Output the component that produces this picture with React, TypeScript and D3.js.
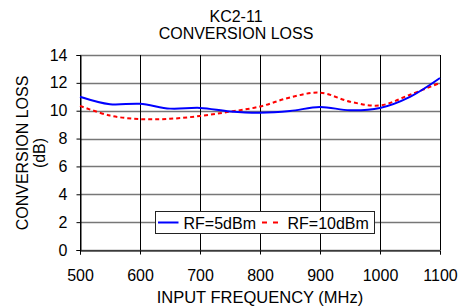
import React, { useEffect, useRef } from 'react';
import * as d3 from 'd3';

const freqs = [500, 550, 600, 650, 700, 750, 800, 850, 900, 950, 1000, 1050, 1100];
const rf5 = [11.0, 10.46, 10.5, 10.15, 10.2, 9.95, 9.86, 9.98, 10.27, 10.03, 10.2, 11.0, 12.35];
const rf10 = [10.35, 9.65, 9.4, 9.42, 9.62, 9.93, 10.3, 10.95, 11.3, 10.65, 10.38, 11.15, 12.0];
const xTicks = [500, 600, 700, 800, 900, 1000, 1100];
const yTicks = [0, 2, 4, 6, 8, 10, 12, 14];

const App = () => {
    const svgRef = useRef<SVGSVGElement>(null);

    useEffect(() => {
        const width = 460;
        const height = 308;
        const margin = { top: 55, right: 20, bottom: 58, left: 80 };
        const font = 'Liberation Sans, Arial, sans-serif';

        const svg = d3.select(svgRef.current)
            .attr('width', width)
            .attr('height', height)
            .style('display', 'block')
            .style('background', '#fff');

        svg.selectAll('*').remove();

        const x = d3.scaleLinear().domain([500, 1100]).range([margin.left, width - margin.right]);
        const y = d3.scaleLinear().domain([0, 14]).range([height - margin.bottom, margin.top]);

        // horizontal grid
        svg.append('g')
            .selectAll('line')
            .data(yTicks)
            .enter()
            .append('line')
            .attr('x1', x(500))
            .attr('x2', x(1100))
            .attr('y1', d => Math.round(y(d)) + 0.5)
            .attr('y2', d => Math.round(y(d)) + 0.5)
            .attr('stroke', '#777')
            .attr('stroke-width', 1.3);

        // vertical grid
        svg.append('g')
            .selectAll('line')
            .data(xTicks)
            .enter()
            .append('line')
            .attr('x1', d => Math.round(x(d)) + 0.5)
            .attr('x2', d => Math.round(x(d)) + 0.5)
            .attr('y1', y(14))
            .attr('y2', y(0))
            .attr('stroke', '#000')
            .attr('stroke-width', 1);

        // axes
        const xAxis = svg.append('g')
            .attr('transform', `translate(0, ${Math.round(y(0)) + 0.5})`)
            .call(d3.axisBottom(x).tickValues(xTicks).tickSize(4).tickPadding(15).tickFormat(d3.format('d')));
        const yAxis = svg.append('g')
            .attr('transform', `translate(${Math.round(x(500)) + 0.5}, 0)`)
            .call(d3.axisLeft(y).tickValues(yTicks).tickSize(4).tickPadding(9));

        [xAxis, yAxis].forEach(a => {
            a.select('.domain').attr('stroke', '#000');
            a.selectAll('.tick line').attr('stroke', '#000');
            a.selectAll('.tick text')
                .attr('fill', '#000')
                .style('font-family', font)
                .style('font-size', '16px');
        });

        const line = (vals: number[]) => d3.line<number>()
            .x((d, i) => x(freqs[i]))
            .y(d => y(d))
            .curve(d3.curveCatmullRom.alpha(0.5))(vals);

        svg.append('path')
            .attr('d', line(rf10))
            .attr('fill', 'none')
            .attr('stroke', '#ff0000')
            .attr('stroke-width', 2)
            .attr('stroke-dasharray', '4,3');

        svg.append('path')
            .attr('d', line(rf5))
            .attr('fill', 'none')
            .attr('stroke', '#0000ff')
            .attr('stroke-width', 2);

        // titles
        const title = svg.append('text')
            .attr('text-anchor', 'middle')
            .style('font-family', font)
            .style('font-size', '16px');
        title.append('tspan').attr('x', 236).attr('y', 22).text('KC2-11');
        title.append('tspan').attr('x', 236).attr('y', 39).text('CONVERSION LOSS');

        svg.append('text')
            .attr('x', 260)
            .attr('y', 302.5)
            .attr('text-anchor', 'middle')
            .style('font-family', font)
            .style('font-size', '16.5px')
            .text('INPUT FREQUENCY (MHz)');

        const yTitle = svg.append('text')
            .attr('transform', 'translate(0, 153) rotate(-90)')
            .attr('text-anchor', 'middle')
            .style('font-family', font)
            .style('font-size', '16px');
        yTitle.append('tspan').attr('x', 0).attr('y', 28).text('CONVERSION LOSS');
        yTitle.append('tspan').attr('x', 0).attr('y', 45).text('(dB)');

        // legend
        const lg = svg.append('g').attr('transform', 'translate(155.5, 211.5)');
        lg.append('rect')
            .attr('width', 219)
            .attr('height', 22)
            .attr('fill', '#fff')
            .attr('stroke', '#222');
        lg.append('line')
            .attr('x1', 2.5).attr('x2', 23).attr('y1', 11).attr('y2', 11)
            .attr('stroke', '#0000ff').attr('stroke-width', 2);
        lg.append('text')
            .attr('x', 28).attr('y', 17)
            .style('font-family', font).style('font-size', '16px')
            .text('RF=5dBm');
        lg.append('line')
            .attr('x1', 106.5).attr('x2', 123).attr('y1', 11).attr('y2', 11)
            .attr('stroke', '#ff0000').attr('stroke-width', 2).attr('stroke-dasharray', '5,6');
        lg.append('text')
            .attr('x', 132).attr('y', 17)
            .style('font-family', font).style('font-size', '16px')
            .text('RF=10dBm');
    }, []);

    return (
        <div style={{ position: 'absolute', left: 0, top: 0, width: 460, height: 308 }}>
            <svg ref={svgRef}></svg>
        </div>
    );
};

export default App;
